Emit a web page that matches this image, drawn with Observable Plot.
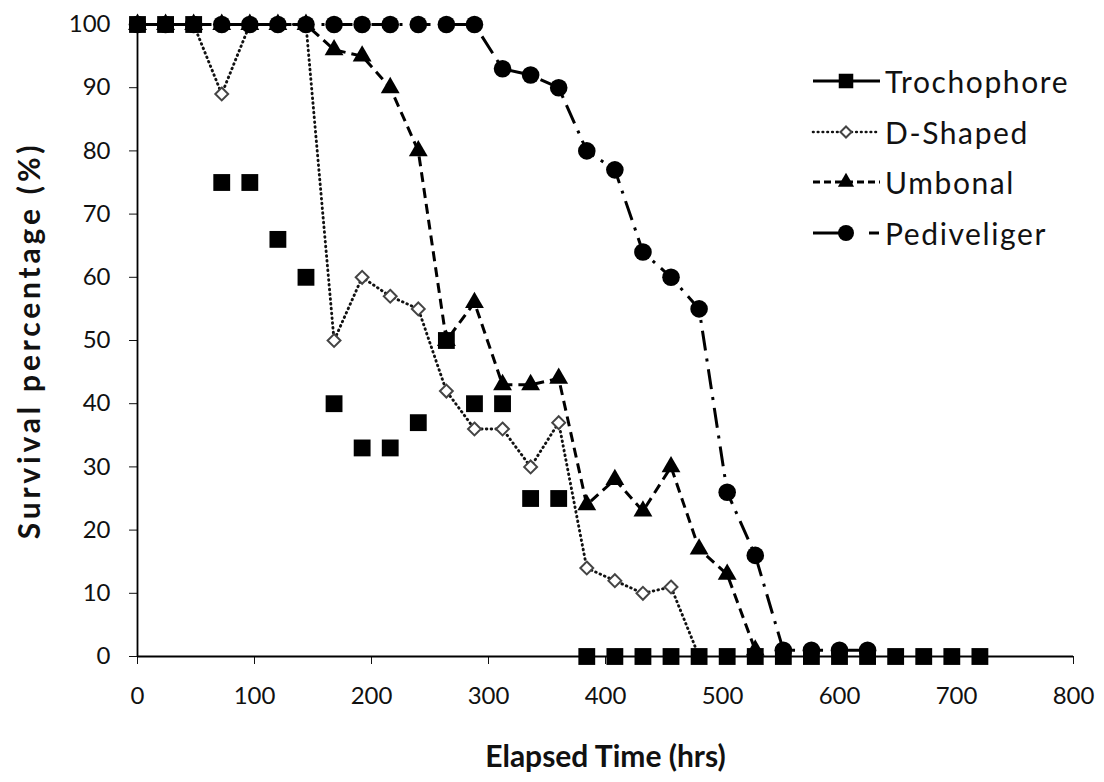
<!DOCTYPE html>
<html><head><meta charset="utf-8">
<script src="https://cdn.jsdelivr.net/npm/d3@7"></script>
<script src="https://cdn.jsdelivr.net/npm/@observablehq/plot@0.6"></script>
<style>
body{margin:0;background:#fff;}
#wrap{position:relative;width:1104px;height:782px;font-family:Lato,"Open Sans",sans-serif;}
#legend{position:absolute;left:810px;top:56px;}
.row{display:flex;align-items:center;height:50.5px;}
.row span{font-size:30px;letter-spacing:1.6px;color:#111;margin-left:3px;}
</style></head><body><div id="wrap"><div id="legend"></div></div>
<script>
const hours = [0,24,48,72,96,120,144,168,192,216,240,264,288,312,336,360,384,408,432,456,480,504,528,552,576,600,624,648,672,696,720];
const trochophore = [100,100,100,75,75,66,60,40,33,33,37,50,40,40,25,25,0,0,0,0,0,0,0,0,0,0,0,0,0,0,0];
const dShaped = [100,100,100,89,100,100,100,50,60,57,55,42,36,36,30,37,14,12,10,11,0];
const umbonal = [100,100,100,100,100,100,100,96,95,90,80,50,56,43,43,44,24,28,23,30,17,13,1];
const pediveliger = [100,100,100,100,100,100,100,100,100,100,100,100,100,93,92,90,80,77,64,60,55,26,16,1,1,1,1];
const seriesNames = ["Trochophore","D-Shaped","Umbonal","Pediveliger"];
const xTicks = [0,100,200,300,400,500,600,700,800];
const yTicks = [0,10,20,30,40,50,60,70,80,90,100];
const xTitle = "Elapsed Time (hrs)";
const yTitle = "Survival percentage (%)";

const rows = (name, values) => values.map((v,i)=>({series:name, t:hours[i], v}));
const T = rows(seriesNames[0], trochophore);
const D = rows(seriesNames[1], dShaped);
const U = rows(seriesNames[2], umbonal);
const P = rows(seriesNames[3], pediveliger);

const styles = {
  "Trochophore": {stroke:"#000", dash:null, cap:"butt", width:3, symbol:"square", r:9.5, fill:"#000", mstroke:"none"},
  "D-Shaped": {stroke:"#111", dash:"0.6,4.2", cap:"round", width:2.9, symbol:"diamond2", r:5.8, fill:"#fff", mstroke:"#444"},
  "Umbonal": {stroke:"#000", dash:"10,6", cap:"butt", width:3, symbol:"triangle", r:7, fill:"#000", mstroke:"none"},
  "Pediveliger": {stroke:"#000", dash:"20,8,3,8", cap:"butt", width:3, symbol:"circle", r:8.8, fill:"#000", mstroke:"none"}
};

function lineMark(data, name){
  const s = styles[name];
  return Plot.line(data, {x:"t", y:"v", stroke:s.stroke, strokeWidth:s.width, strokeDasharray:s.dash, strokeLinecap:s.cap, strokeLinejoin:"round"});
}
function dotMark(data, name){
  const s = styles[name];
  return Plot.dot(data, {x:"t", y:"v", symbol:()=>s.symbol, r:s.r, fill:s.fill, stroke:s.mstroke, strokeWidth:2});
}

const chart = Plot.plot({
  width:1104, height:782,
  marginLeft:137, marginRight:31, marginTop:24, marginBottom:126,
  style:{fontFamily:"Lato, 'Open Sans', sans-serif", fontSize:"24px", color:"#111", background:"#fff"},
  x:{domain:[0,800]},
  y:{domain:[0,100]},
  symbol:{type:"identity"},
  marks:[
    Plot.axisY({ticks:yTicks, tickSize:8, tickPadding:19, fontSize:24, label:null, tickFormat:d=>d}),
    Plot.axisX({ticks:xTicks, tickSize:8, tickPadding:22, fontSize:24, label:null, tickFormat:d=>d}),
    Plot.ruleX([0], {stroke:"#000", strokeWidth:1.8}),
    Plot.ruleY([0], {stroke:"#000", strokeWidth:1.8}),
    lineMark(D, "D-Shaped"),
    dotMark(D, "D-Shaped"),
    dotMark(T, "Trochophore"),
    lineMark(U, "Umbonal"),
    dotMark(U, "Umbonal"),
    lineMark(P, "Pediveliger"),
    dotMark(P, "Pediveliger"),
    Plot.text([yTitle], {text:d=>d, frameAnchor:"left", textAnchor:"middle", lineAnchor:"middle", dx:-107, rotate:-90, fontWeight:"bold", fontSize:30, fill:"#111"}),
    Plot.text([xTitle], {text:d=>d, frameAnchor:"bottom", textAnchor:"middle", lineAnchor:"middle", dy:101, fontWeight:"bold", fontSize:30, fill:"#111"})
  ]
});
d3.select(chart).selectAll("text").filter(function(){ return this.textContent === yTitle; }).attr("letter-spacing","3.8px");
document.getElementById("wrap").prepend(chart);

// legend
const legend = d3.select("#legend");
const symMap = {square:d3.symbolSquare, diamond2:d3.symbolDiamond2, triangle:d3.symbolTriangle, circle:d3.symbolCircle};
const legendR = {"Trochophore":8.2, "D-Shaped":5, "Umbonal":6, "Pediveliger":8};
const legendDash = {"Trochophore":null, "D-Shaped":"0.6,4.2", "Umbonal":"7,4", "Pediveliger":"38,18,10,20"};
seriesNames.forEach(name=>{
  const s = styles[name];
  const row = legend.append("div").attr("class","row");
  const svg = row.append("svg").attr("width",72).attr("height",30);
  svg.append("line").attr("x1",3).attr("x2",70).attr("y1",15).attr("y2",15)
    .attr("stroke",s.stroke).attr("stroke-width",name==="D-Shaped"?2.6:3)
    .attr("stroke-linecap", s.cap)
    .attr("stroke-dasharray", legendDash[name]);
  const r = legendR[name];
  svg.append("path").attr("transform","translate(36,15)")
    .attr("d", d3.symbol(symMap[s.symbol], Math.PI*r*r)())
    .attr("fill", s.fill).attr("stroke", s.mstroke).attr("stroke-width",2);
  row.append("span").text(name);
});
</script></body></html>
